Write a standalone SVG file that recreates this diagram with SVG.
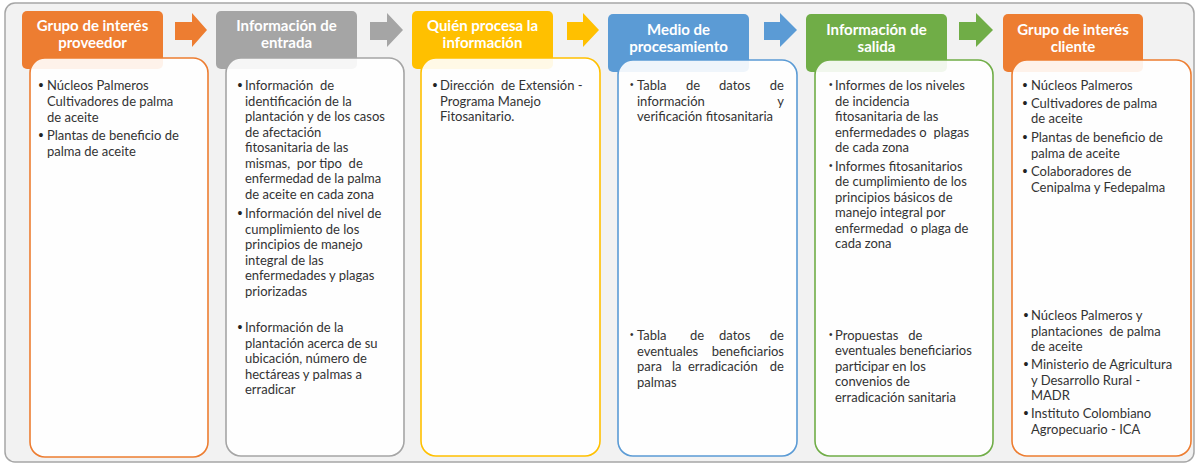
<svg xmlns="http://www.w3.org/2000/svg" width="1196" height="463" viewBox="0 0 1196 463">
<style>
.frame{fill:#f2f2f2;stroke:#a6a6a6;stroke-width:1.5}
.hd{stroke:none}
.box{fill:#ffffff;fill-opacity:0.9;stroke-width:1.6}
.ht{font-family:Lato,"Liberation Sans",sans-serif;font-weight:bold;font-size:15px;fill:#ffffff;text-anchor:middle}
.bt{font-family:Lato,"Liberation Sans",sans-serif;font-size:13px;fill:#333333;white-space:pre}
.bl{font-family:"Liberation Sans",sans-serif;font-size:14px;fill:#222222}
.bs{font-family:"Liberation Sans",sans-serif;font-size:10px;fill:#333333}
.end{text-anchor:end}
.orange{fill:#ED7D31}.grey{fill:#A5A5A5}.yellow{fill:#FFC000}.blue{fill:#5B9BD5}.green{fill:#70AD47}
.so{stroke:#ED7D31}.sg{stroke:#A5A5A5}.sy{stroke:#FFC000}.sb{stroke:#5B9BD5}.sgr{stroke:#70AD47}
</style>
<rect class="frame" x="5" y="3" width="1189" height="459" rx="10"/>

<g id="connectors">
<polygon class="orange" points="175,22 192,22 192,13 207,30 192,47 192,40 175,40"/>
<polygon class="grey" points="370,22 387,22 387,13 403,30 387,47 387,40 370,40"/>
<polygon class="yellow" points="567,22 583,22 583,13 599,30 583,47 583,40 567,40"/>
<polygon class="blue" points="764,22 780,22 780,13 797,30 780,47 780,40 764,40"/>
<polygon class="green" points="959,22 976,22 976,13 993,30 976,47 976,40 959,40"/>
</g>

<g id="proveedor">
<rect class="hd orange" x="22" y="11" width="141" height="58" rx="5"/>
<rect class="box so" x="30" y="58" width="178" height="399" rx="15"/>
<text class="ht" x="92.5" y="31">Grupo de interés</text>
<text class="ht" x="92.5" y="48">proveedor</text>
<text class="bl" x="38.5" y="90">•</text>
<text class="bt" x="47" y="90">Núcleos Palmeros</text>
<text class="bt" x="47" y="106">Cultivadores de palma</text>
<text class="bt" x="47" y="122">de aceite</text>
<text class="bl" x="38.5" y="140">•</text>
<text class="bt" x="47" y="140">Plantas de beneficio de</text>
<text class="bt" x="47" y="156">palma de aceite</text>
</g>

<g id="entrada">
<rect class="hd grey" x="216" y="11" width="141" height="58" rx="5"/>
<rect class="box sg" x="226" y="58" width="178" height="398" rx="15"/>
<text class="ht" x="286.5" y="31">Información de</text>
<text class="ht" x="286.5" y="48">entrada</text>
<text class="bl" x="237.5" y="90">•</text>
<text class="bt" x="245" y="90">Información  de</text>
<text class="bt" x="245" y="105.5">identificación de la</text>
<text class="bt" x="245" y="121">plantación y de los casos</text>
<text class="bt" x="245" y="136.5">de afectación</text>
<text class="bt" x="245" y="152">fitosanitaria de las</text>
<text class="bt" x="245" y="167.5">mismas,  por tipo  de</text>
<text class="bt" x="245" y="183">enfermedad de la palma</text>
<text class="bt" x="245" y="198.5">de aceite en cada zona</text>
<text class="bl" x="237.5" y="218">•</text>
<text class="bt" x="245" y="218">Información del nivel de</text>
<text class="bt" x="245" y="233.5">cumplimiento de los</text>
<text class="bt" x="245" y="249">principios de manejo</text>
<text class="bt" x="245" y="264.5">integral de las</text>
<text class="bt" x="245" y="280">enfermedades y plagas</text>
<text class="bt" x="245" y="295.5">priorizadas</text>
<text class="bl" x="237.5" y="332">•</text>
<text class="bt" x="245" y="332">Información de la</text>
<text class="bt" x="245" y="347.5">plantación acerca de su</text>
<text class="bt" x="245" y="363">ubicación, número de</text>
<text class="bt" x="245" y="378.5">hectáreas y palmas a</text>
<text class="bt" x="245" y="394">erradicar</text>
</g>

<g id="quien">
<rect class="hd yellow" x="412" y="11" width="141" height="58" rx="5"/>
<rect class="box sy" x="421" y="58" width="179" height="398" rx="15"/>
<text class="ht" x="482.5" y="31">Quién procesa la</text>
<text class="ht" x="482.5" y="48">información</text>
<text class="bl" x="432.5" y="90">•</text>
<text class="bt" x="440" y="90">Dirección  de Extensión -</text>
<text class="bt" x="440" y="105.5">Programa Manejo</text>
<text class="bt" x="440" y="121">Fitosanitario.</text>
</g>

<g id="medio">
<rect class="hd blue" x="608" y="14" width="141" height="58" rx="5"/>
<rect class="box sb" x="618" y="60" width="179" height="396" rx="15"/>
<text class="ht" x="678.5" y="35">Medio de</text>
<text class="ht" x="678.5" y="52">procesamiento</text>
<text class="bs" x="630" y="88">•</text>
<text class="bt" y="90"><tspan x="637">Tabla</tspan><tspan x="686">de</tspan><tspan x="719">datos</tspan><tspan x="784" class="end">de</tspan></text>
<text class="bt" y="105.5"><tspan x="637">información</tspan><tspan x="784" class="end">y</tspan></text>
<text class="bt" x="637" y="121">verificación fitosanitaria</text>
<text class="bs" x="630" y="338">•</text>
<text class="bt" y="340"><tspan x="637">Tabla</tspan><tspan x="690">de</tspan><tspan x="719">datos</tspan><tspan x="784" class="end">de</tspan></text>
<text class="bt" y="355.5"><tspan x="637">eventuales</tspan><tspan x="784" class="end">beneficiarios</tspan></text>
<text class="bt" y="371"><tspan x="637">para</tspan><tspan x="672">la</tspan><tspan x="688">erradicación</tspan><tspan x="784" class="end">de</tspan></text>
<text class="bt" x="637" y="386.5">palmas</text>
</g>

<g id="salida">
<rect class="hd green" x="806" y="14" width="141" height="58" rx="5"/>
<rect class="box sgr" x="815" y="60" width="178" height="396" rx="15"/>
<text class="ht" x="876.5" y="35">Información de</text>
<text class="ht" x="876.5" y="52">salida</text>
<text class="bs" x="829" y="88">•</text>
<text class="bt" x="835" y="90">Informes de los niveles</text>
<text class="bt" x="835" y="105.5">de incidencia</text>
<text class="bt" x="835" y="121">fitosanitaria de las</text>
<text class="bt" x="835" y="136.5">enfermedades o  plagas</text>
<text class="bt" x="835" y="152">de cada zona</text>
<text class="bs" x="829" y="168.5">•</text>
<text class="bt" x="835" y="170.5">Informes fitosanitarios</text>
<text class="bt" x="835" y="186">de cumplimiento de los</text>
<text class="bt" x="835" y="201.5">principios básicos de</text>
<text class="bt" x="835" y="217">manejo integral por</text>
<text class="bt" x="835" y="232.5">enfermedad  o plaga de</text>
<text class="bt" x="835" y="248">cada zona</text>
<text class="bs" x="829" y="337.5">•</text>
<text class="bt" x="835" y="339.5">Propuestas   de</text>
<text class="bt" x="835" y="355">eventuales beneficiarios</text>
<text class="bt" x="835" y="370.5">participar en los</text>
<text class="bt" x="835" y="386">convenios de</text>
<text class="bt" x="835" y="401.5">erradicación sanitaria</text>
</g>

<g id="cliente">
<rect class="hd orange" x="1003" y="14" width="140" height="58" rx="5"/>
<rect class="box so" x="1012" y="60" width="179" height="396" rx="15"/>
<text class="ht" x="1073" y="35">Grupo de interés</text>
<text class="ht" x="1073" y="52">cliente</text>
<text class="bl" x="1022.5" y="89.5">•</text>
<text class="bt" x="1031" y="89.5">Núcleos Palmeros</text>
<text class="bl" x="1022.5" y="107.5">•</text>
<text class="bt" x="1031" y="107.5">Cultivadores de palma</text>
<text class="bt" x="1031" y="122.5">de aceite</text>
<text class="bl" x="1022.5" y="141.5">•</text>
<text class="bt" x="1031" y="141.5">Plantas de beneficio de</text>
<text class="bt" x="1031" y="157.5">palma de aceite</text>
<text class="bl" x="1022.5" y="175.5">•</text>
<text class="bt" x="1031" y="175.5">Colaboradores de</text>
<text class="bt" x="1031" y="191.5">Cenipalma y Fedepalma</text>
<text class="bl" x="1023.5" y="319.5">•</text>
<text class="bt" x="1031" y="319.5">Núcleos Palmeros y</text>
<text class="bt" x="1031" y="335.5">plantaciones  de palma</text>
<text class="bt" x="1031" y="350.5">de aceite</text>
<text class="bl" x="1023.5" y="368.5">•</text>
<text class="bt" x="1031" y="368.5">Ministerio de Agricultura</text>
<text class="bt" x="1031" y="384.5">y Desarrollo Rural -</text>
<text class="bt" x="1031" y="399.5">MADR</text>
<text class="bl" x="1023.5" y="417.5">•</text>
<text class="bt" x="1031" y="417.5">Instituto Colombiano</text>
<text class="bt" x="1031" y="433.5">Agropecuario - ICA</text>
</g>
</svg>
